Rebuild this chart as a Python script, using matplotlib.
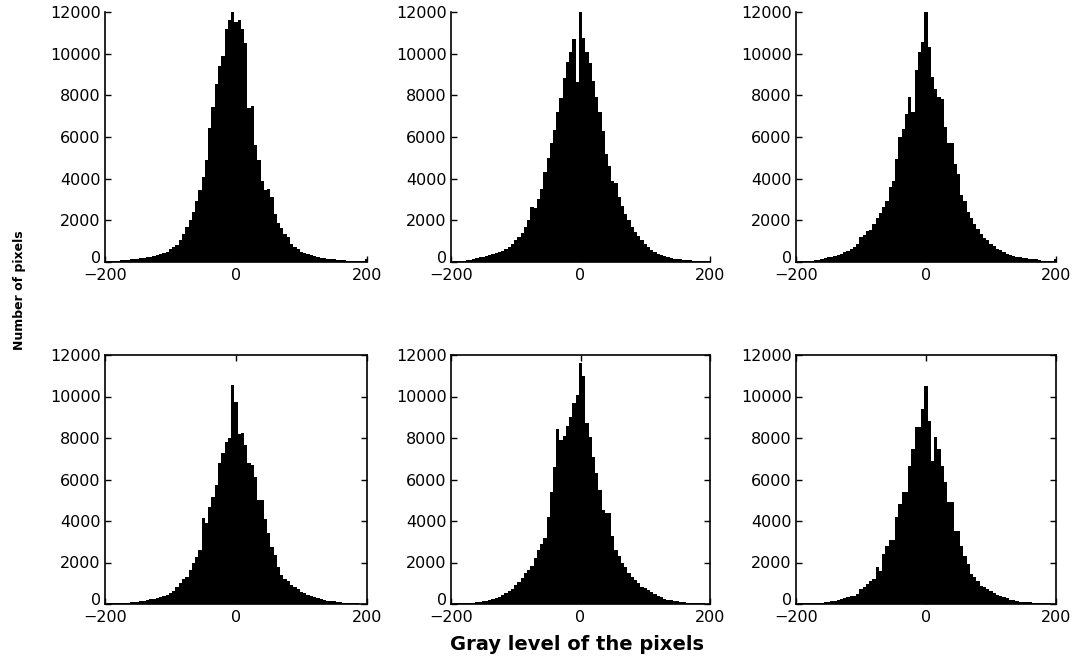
import numpy as np
import matplotlib
matplotlib.use("Agg")
import matplotlib.pyplot as plt
import matplotlib.transforms as mtransforms

# Bin centres (gray level) shared by all six histograms
bin_centers = list(range(-200, 201, 5))
bin_width = 5

counts_top_left = [
    30, 40, 50, 60, 70, 80, 90, 100, 120, 140,
    160, 180, 200, 230, 260, 300, 340, 400, 450, 500,
    620, 720, 800, 1050, 1350, 1700, 2000, 2400, 2950, 3450,
    4100, 4900, 6450, 7450, 8550, 9400, 9900, 11200, 11600, 12000,
    11500, 11600, 11200, 10500, 7400, 7500, 5600, 4900, 3900, 3450,
    3500, 3100, 2300, 1850, 1650, 1350, 1200, 880, 720, 640,
    500, 420, 380, 320, 280, 240, 210, 180, 160, 140,
    120, 100, 90, 80, 70, 60, 50, 45, 40, 35,
    150,
]
counts_top_mid = [
    20, 30, 40, 50, 60, 80, 100, 130, 170, 220,
    260, 290, 320, 370, 430, 480, 540, 620, 700, 850,
    1050, 1200, 1400, 1680, 2000, 2650, 2600, 3000, 3500, 4300,
    5000, 5700, 6340, 7210, 7860, 8820, 9610, 10100, 10700, 8650,
    12000, 10750, 10100, 9550, 8700, 7900, 7200, 6300, 5200, 4600,
    3900, 3800, 3100, 2700, 2300, 2000, 1700, 1450, 1250, 1070,
    850, 700, 560, 480, 400, 330, 280, 240, 200, 160,
    140, 120, 100, 90, 80, 70, 60, 50, 40, 30,
    60,
]
counts_top_right = [
    20, 30, 40, 50, 60, 70, 90, 110, 140, 170,
    220, 260, 300, 350, 400, 470, 540, 620, 700, 850,
    1200, 1300, 1500, 1550, 1800, 2100, 2350, 2650, 2950, 3600,
    3900, 4950, 6000, 6400, 7100, 7900, 7200, 9200, 10080, 10560,
    12000, 10320, 8900, 8300, 7900, 7800, 6500, 5700, 5700, 4700,
    4240, 3200, 2950, 2400, 2100, 1840, 1600, 1360, 1150, 1040,
    850, 750, 620, 560, 480, 400, 350, 300, 260, 240,
    200, 170, 160, 140, 120, 90, 70, 60, 50, 40,
    160,
]
counts_bot_left = [
    20, 25, 30, 35, 40, 50, 60, 70, 80, 100,
    110, 130, 160, 190, 220, 250, 270, 320, 380, 430,
    520, 620, 800, 1000, 1200, 1300, 1640, 1960, 2280, 2600,
    4130, 3890, 4690, 5170, 5740, 6780, 7260, 7830, 8000, 10560,
    9750, 8200, 8230, 7660, 6800, 6700, 6140, 5010, 5000, 4100,
    3400, 2760, 2360, 1800, 1400, 1200, 1120, 920, 800, 700,
    600, 510, 450, 380, 320, 270, 230, 190, 160, 140,
    130, 110, 90, 70, 60, 50, 40, 30, 20, 15,
    10,
]
counts_bot_mid = [
    20, 25, 30, 35, 40, 50, 60, 70, 80, 100,
    130, 160, 200, 250, 300, 360, 430, 520, 620, 720,
    900, 1050, 1250, 1480, 1650, 1850, 2200, 2600, 2900, 3200,
    4210, 5420, 6620, 8420, 7900, 8100, 8600, 9030, 9670, 10080,
    11600, 11000, 8710, 8070, 7100, 6300, 5500, 4530, 4370, 4370,
    3300, 2600, 2300, 2000, 1800, 1500, 1300, 1160, 1000, 835,
    750, 675, 560, 480, 400, 320, 260, 200, 180, 160,
    130, 100, 80, 70, 60, 50, 40, 30, 25, 20,
    15,
]
counts_bot_right = [
    20, 25, 30, 35, 40, 45, 50, 60, 70, 80,
    100, 130, 160, 200, 250, 300, 350, 380, 400, 500,
    700, 800, 960, 1100, 1200, 1770, 1600, 2410, 2810, 3100,
    3100, 4180, 4820, 5380, 5380, 6670, 7470, 8520, 8520, 9400,
    10500, 8840, 6900, 8040, 7470, 6670, 5870, 4900, 4900, 3540,
    3540, 2810, 2330, 1930, 1450, 1290, 1100, 885, 800, 720,
    640, 530, 450, 370, 320, 270, 210, 180, 150, 110,
    100, 90, 80, 70, 60, 50, 40, 30, 25, 20,
    15,
]

x_ticks = [-200, 0, 200]
y_ticks = [0, 2000, 4000, 6000, 8000, 10000, 12000]
x_label = "Gray level of the pixels"
y_label = "Number of pixels"

panels = [
    [counts_top_left, counts_top_mid, counts_top_right],
    [counts_bot_left, counts_bot_mid, counts_bot_right],
]

W, H = 1078, 662
fig = plt.figure(figsize=(W / 100, H / 100), dpi=100)

col_px = [(105, 367), (451, 710), (796, 1056)]
row_px = [(12, 262), (355, 604)]

for r, (ytop, ybot) in enumerate(row_px):
    for c, (xl, xr) in enumerate(col_px):
        ax = fig.add_axes([xl / W, 1 - ybot / H, (xr - xl) / W, (ybot - ytop) / H])
        ax.bar(bin_centers, panels[r][c], width=bin_width, color="black",
               edgecolor="black", linewidth=0, align="center")
        ax.set_xlim(-200, 200)
        ax.set_ylim(0, 12000)
        ax.set_xticks(x_ticks)
        ax.set_yticks(y_ticks)
        ax.set_xticklabels(["\u2212200", "0", "200"])
        ax.set_yticklabels([str(v) for v in y_ticks])
        for sp in ax.spines.values():
            sp.set_linewidth(1.2)
        common = dict(direction="in", length=4, width=1, labelsize=11.5)
        if r == 0:
            ax.spines["top"].set_visible(False)
            ax.spines["right"].set_visible(False)
            ax.tick_params(top=False, right=False, **common)
        else:
            ax.tick_params(top=True, right=True, **common)
        ax.tick_params(axis="x", pad=4)
        ax.tick_params(axis="y", pad=3)
        # lift the "0" y label slightly so it clears the "-200" x label
        lbl0 = ax.get_yticklabels()[0]
        lbl0.set_transform(lbl0.get_transform() +
                           mtransforms.ScaledTranslation(0, 5 / 100, fig.dpi_scale_trans))

fig.text(0.535, 0.026, x_label, ha="center", va="center",
         fontsize=14, fontweight="bold")
fig.text(0.018, 0.562, y_label, ha="center", va="center",
         rotation=90, fontsize=9, fontweight="bold")

fig.savefig("out.png", dpi=100)
